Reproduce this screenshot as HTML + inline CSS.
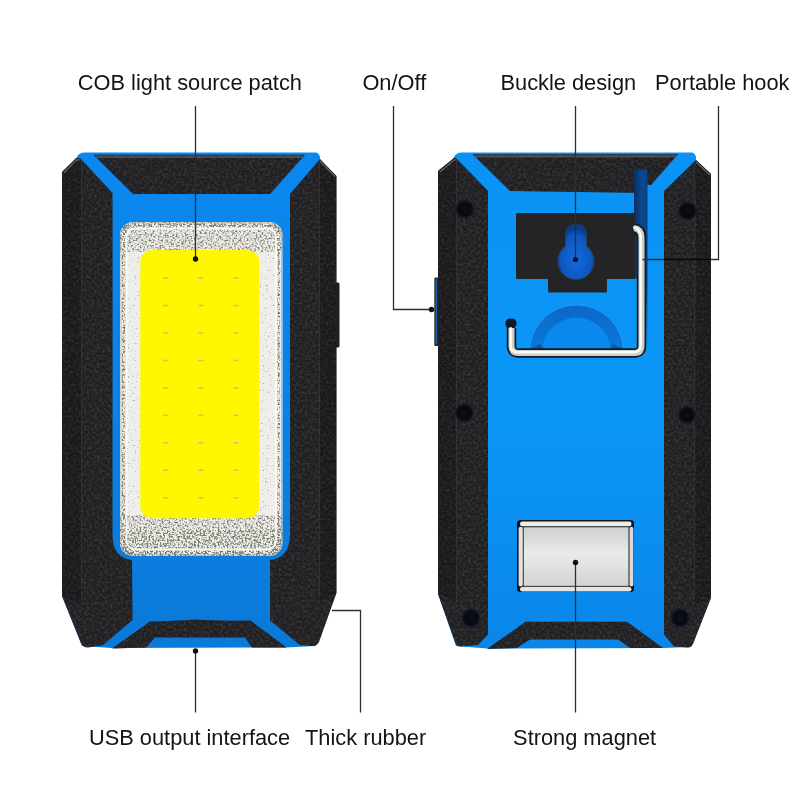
<!DOCTYPE html>
<html><head><meta charset="utf-8">
<style>
html,body{margin:0;padding:0;background:#fff;width:800px;height:800px;overflow:hidden}
svg{display:block;will-change:transform}
text{font-family:"Liberation Sans",sans-serif;font-size:21.8px;fill:#141414}
</style></head><body>
<svg width="800" height="800" viewBox="0 0 800 800">
<defs>
  <filter id="rub" x="0" y="0" width="100%" height="100%" color-interpolation-filters="sRGB">
    <feTurbulence type="fractalNoise" baseFrequency="0.38" numOctaves="3" seed="7" result="n"/>
    <feColorMatrix in="n" type="matrix" values="0 0 0 0 0.27  0 0 0 0 0.27  0 0 0 0 0.28  1.6 0 0 0 -0.62" result="spk"/>
    <feComposite in="spk" in2="SourceGraphic" operator="in" result="s2"/>
    <feMerge><feMergeNode in="SourceGraphic"/><feMergeNode in="s2"/></feMerge>
  </filter>
  <filter id="spkH" x="0" y="0" width="100%" height="100%" color-interpolation-filters="sRGB">
    <feTurbulence type="fractalNoise" baseFrequency="0.55" numOctaves="2" seed="3" result="n"/>
    <feColorMatrix in="n" type="matrix" values="0 0 0 0 0.45  0 0 0 0 0.45  0 0 0 0 0.4  3.2 0 0 0 -1.45" result="spk"/>
    <feComposite in="spk" in2="SourceAlpha" operator="in"/>
  </filter>
  <filter id="spkL" x="0" y="0" width="100%" height="100%" color-interpolation-filters="sRGB">
    <feTurbulence type="fractalNoise" baseFrequency="0.6" numOctaves="2" seed="11" result="n"/>
    <feColorMatrix in="n" type="matrix" values="0 0 0 0 0.6  0 0 0 0 0.6  0 0 0 0 0.55  5 0 0 0 -3.3" result="spk"/>
    <feComposite in="spk" in2="SourceAlpha" operator="in"/>
  </filter>
  <clipPath id="silvclip"><rect x="120" y="222" width="162.5" height="334" rx="13"/></clipPath>
  <linearGradient id="mag" x1="0" y1="0" x2="0" y2="1">
    <stop offset="0" stop-color="#d0d0d2"/>
    <stop offset="0.45" stop-color="#eaeaec"/>
    <stop offset="1" stop-color="#d2d2d4"/>
  </linearGradient>
  <linearGradient id="bl" x1="0" y1="0" x2="0" y2="1">
    <stop offset="0" stop-color="#0b88ee"/>
    <stop offset="0.6" stop-color="#0a80e4"/>
    <stop offset="1" stop-color="#0a7ad9"/>
  </linearGradient>
  <linearGradient id="br" x1="0" y1="0" x2="0" y2="1">
    <stop offset="0" stop-color="#0a92f4"/>
    <stop offset="0.5" stop-color="#0a97f8"/>
    <stop offset="1" stop-color="#0a86ea"/>
  </linearGradient>
  <radialGradient id="scr" cx="0.5" cy="0.5" r="0.5">
    <stop offset="0" stop-color="#0e0f12"/>
    <stop offset="0.6" stop-color="#08090c"/>
    <stop offset="0.78" stop-color="#0a1628"/>
    <stop offset="1" stop-color="#1f2024" stop-opacity="0"/>
  </radialGradient>
</defs>
<rect width="800" height="800" fill="#fff"/>

<!-- ===== LEFT DEVICE ===== -->
<g id="L">
  <!-- blue body -->
  <path d="M62,172 L76,159 Q78,152.5 84,152.5 L316,152.5 Q319,153 320,157 L320,159 L336,176 L336,593 L315,646 L286,647.5 L112,648 L82,646 L62,596 Z" fill="url(#bl)"/>
  <!-- side button -->
  <rect x="334" y="282.5" width="5.5" height="65" rx="1.5" fill="#1e1e20"/>
  <g fill="#1f1f22" filter="url(#rub)">
  <!-- left bar -->
  <path d="M62,172 L76,158 L80,158 L112.5,193 L112.5,536 Q113,558 132,560 L132.5,620 L103,645 L88,647.5 Q83,647.5 81,643 L62,596 Z"/>
  <!-- right bar -->
  <path d="M320,159 L336.5,176 L336.5,593 L319,642 Q317,646 313,646 L300,645 L270,620.5 L270,560 Q289,558 290,536 L290,194 Z"/>
  <!-- top trapezoid -->
  <path d="M93.5,154.8 L305,154.8 L270,194 L133,194 Z"/>
  <!-- bottom trapezoid -->
  <path d="M150,621.5 Q175,621 195,619.5 Q215,621 250.5,620.5 L286.5,647.5 L252,647.5 L245,637.5 L155,637.5 L146,647.5 L112,648.5 Z"/>
  </g>
  <!-- bevel lines -->
  <path d="M62,172 L76,159 L81,159 L81,604 L62,596 Z" fill="#000" opacity="0.18"/>
  <path d="M81.5,162 L81.5,600" stroke="#3a3a3c" stroke-width="1" opacity="0.6"/>
  <path d="M320,160 L336.5,176 L336.5,593 L320,602 Z" fill="#000" opacity="0.18"/>
  <path d="M319.5,164 L319.5,598" stroke="#3a3a3c" stroke-width="1" opacity="0.6"/>
  <!-- silver frame -->
  <rect x="120" y="222" width="162.5" height="334" rx="13" fill="#efeeea"/>
  <g clip-path="url(#silvclip)">
    <rect x="120" y="222" width="163" height="334" fill="#000" filter="url(#spkL)"/>
    <rect x="120" y="222" width="163" height="30" fill="#000" filter="url(#spkH)"/>
    <rect x="120" y="515" width="163" height="41" fill="#000" filter="url(#spkH)"/>
    <rect x="120" y="530" width="163" height="26" fill="#000" filter="url(#spkH)"/>
    <rect x="122.5" y="224.5" width="157.5" height="329" rx="11" fill="none" stroke="#000" stroke-width="6" filter="url(#spkH)"/>
    <rect x="122.5" y="224.5" width="157.5" height="329" rx="11" fill="none" stroke="#000" stroke-width="4" filter="url(#spkH)"/>
    <rect x="121" y="223" width="160.5" height="332" rx="12" fill="none" stroke="#8a8a80" stroke-width="1.2" opacity="0.4"/>
    <rect x="126.5" y="228.5" width="149.5" height="321" rx="9" fill="none" stroke="#fbfbf8" stroke-width="1.8" opacity="0.95"/>
  </g>
  <!-- yellow COB -->
  <rect x="140.3" y="250" width="119" height="268.3" rx="12" fill="#fff700"/>
  <g fill="#cbbf7c">
    <rect x="163" y="277.3" width="5" height="1.5"/><rect x="198.3" y="277.3" width="5" height="1.5"/><rect x="233.5" y="277.3" width="5" height="1.5"/>
    <rect x="163" y="304.8" width="5" height="1.5"/><rect x="198.3" y="304.8" width="5" height="1.5"/><rect x="233.5" y="304.8" width="5" height="1.5"/>
    <rect x="163" y="332.2" width="5" height="1.5"/><rect x="198.3" y="332.2" width="5" height="1.5"/><rect x="233.5" y="332.2" width="5" height="1.5"/>
    <rect x="163" y="359.7" width="5" height="1.5"/><rect x="198.3" y="359.7" width="5" height="1.5"/><rect x="233.5" y="359.7" width="5" height="1.5"/>
    <rect x="163" y="387.1" width="5" height="1.5"/><rect x="198.3" y="387.1" width="5" height="1.5"/><rect x="233.5" y="387.1" width="5" height="1.5"/>
    <rect x="163" y="414.6" width="5" height="1.5"/><rect x="198.3" y="414.6" width="5" height="1.5"/><rect x="233.5" y="414.6" width="5" height="1.5"/>
    <rect x="163" y="442" width="5" height="1.5"/><rect x="198.3" y="442" width="5" height="1.5"/><rect x="233.5" y="442" width="5" height="1.5"/>
    <rect x="163" y="469.5" width="5" height="1.5"/><rect x="198.3" y="469.5" width="5" height="1.5"/><rect x="233.5" y="469.5" width="5" height="1.5"/>
    <rect x="163" y="497" width="5" height="1.5"/><rect x="198.3" y="497" width="5" height="1.5"/><rect x="233.5" y="497" width="5" height="1.5"/>
  </g>
</g>

<!-- ===== RIGHT DEVICE ===== -->
<g id="R">
  <path d="M438,171 L453,159 Q455,153 461,152.5 L692,152.5 Q695,153 696,157 L696,160 L711,174 L711,597 L691,647 L663,648 L487,648.5 L456,646 L438,594 Z" fill="url(#br)"/>
  <!-- on/off button -->
  <rect x="434.3" y="277.5" width="5" height="68.5" rx="1.2" fill="#2a2a24"/>
  <rect x="435.6" y="279" width="1.4" height="65" fill="#1a6ac0" opacity="0.85"/>
  <g fill="#1f1f22" filter="url(#rub)">
  <!-- left bar -->
  <path d="M438,171 L454,158 L456,158 L488,191 L488,634.5 L478,645 L460,646.5 Q457,646.5 455.5,643 L438,594 Z"/>
  <!-- right bar -->
  <path d="M696,160 L711,174 L711,598 L693,644 Q691,647.5 688,647.5 L674,646.5 L664,634.5 L664,191 Z"/>
  <!-- top trapezoid -->
  <path d="M472.5,154.3 L678,154.3 L651,185 L647,185 L647,193 L510,191 Z"/>
  <!-- bottom trapezoid -->
  <path d="M525.5,621.75 L627,621.75 L663,648 L630,648 L618,639.5 L530,639.5 L516.5,648 L487,649 Z"/>
  </g>
  <path d="M438,171 L454,158 L456,158 L456,600 L438,594 Z" fill="#000" opacity="0.18"/>
  <path d="M456.5,162 L456.5,600" stroke="#3a3a3c" stroke-width="1" opacity="0.6"/>
  <path d="M696,160 L711,174 L711,598 L695,604 Z" fill="#000" opacity="0.18"/>
  <path d="M694.5,164 L694.5,600" stroke="#3a3a3c" stroke-width="1" opacity="0.6"/>
  <g fill="none" stroke="#8a8a8a" stroke-width="1.3" opacity="0.6">
    <path d="M439.8,172 L454.5,159.8 L456.5,159.8"/>
    <path d="M696,162 L709.8,175"/>
    <path d="M475,156.3 L676,156.3" stroke-width="2.6" stroke="#66666a"/>
    <path d="M63.8,173 L76.5,159.8 L80.5,159.8"/>
    <path d="M320,161 L335,176.5"/>
    <path d="M96,156.8 L303,156.8" stroke-width="2.6" stroke="#66666a"/>
  </g>
  <!-- slot -->
  <linearGradient id="slotg" x1="0" y1="0" x2="1" y2="0"><stop offset="0" stop-color="#0a2f60"/><stop offset="0.6" stop-color="#0b4a92"/><stop offset="1" stop-color="#0a3f7e"/></linearGradient>
  <linearGradient id="slotv" x1="0" y1="0" x2="0" y2="1"><stop offset="0" stop-color="#0a3a78"/><stop offset="1" stop-color="#0a3a78" stop-opacity="0"/></linearGradient>
  <rect x="634" y="169.5" width="13.5" height="109" fill="url(#slotg)"/>
  <rect x="643" y="278" width="4.5" height="70" fill="url(#slotv)"/>
  <!-- buckle black box -->
  <path d="M516,214.5 Q516,213 517.5,213 L635,213 L635,279 L607,279 L607,291 Q607,292.5 605.5,292.5 L549.5,292.5 Q548,292.5 548,291 L548,279 L517.5,279 Q516,279 516,277.5 Z" fill="#242427"/>
  <!-- keyhole -->
  <radialGradient id="kh" cx="0.5" cy="0.62" r="0.55"><stop offset="0" stop-color="#1268dc"/><stop offset="0.75" stop-color="#0d58c0"/><stop offset="1" stop-color="#0a3a88"/></radialGradient>
  <path d="M565.5,234 Q565.5,224 576,224 Q586.5,224 586.5,234 L586.5,246.3 A18.3,18.3 0 1 1 565.5,246.3 Z" fill="url(#kh)" stroke="#3a3a38" stroke-width="1" stroke-opacity="0.6"/>
  <!-- arch -->
  <linearGradient id="archg" x1="0" y1="0" x2="0" y2="1"><stop offset="0" stop-color="#0a68c8"/><stop offset="1" stop-color="#0a7ad8"/></linearGradient>
  <path d="M529.5,352 A47,47 0 0 1 623.5,352 Z" fill="url(#archg)"/>
  <path d="M529.5,352 A47,47 0 0 1 623.5,352" fill="none" stroke="#38b0ff" stroke-width="1" opacity="0.5"/>
  <path d="M542,352 A34.5,34.5 0 0 1 611,352 Z" fill="#0a88ec"/>
  <path d="M516,350 Q530,350 540,344 L545,350 Z M637,350 Q623,350 613,344 L608,350 Z" fill="#0a4c98" opacity="0.7"/>
  <!-- hook wire -->
  <rect x="505.5" y="318.5" width="11" height="10" rx="4.5" fill="#101a28"/>
  <path d="M634,228 Q641.5,229 641.5,238 L641.5,346 Q641.5,353 634.5,353 L518.5,353 Q511.5,353 511.5,346 L511.5,328" fill="none" stroke="#121c2a" stroke-width="9.5"/>
  <path d="M634,228 Q641.5,229 641.5,238 L641.5,346 Q641.5,353 634.5,353 L518.5,353 Q511.5,353 511.5,346 L511.5,328" fill="none" stroke="#cfcfcb" stroke-width="6"/>
  <path d="M634,228 Q641.5,229 641.5,238 L641.5,346 Q641.5,353 634.5,353 L518.5,353 Q511.5,353 511.5,346 L511.5,328" fill="none" stroke="#fbfbf6" stroke-width="2.4" transform="translate(-0.8,-0.8)"/>
  <!-- magnet -->
  <rect x="517" y="520" width="117" height="72" rx="3.5" fill="#111"/>
  <rect x="520" y="521.6" width="111.5" height="4.6" rx="2.2" fill="#ededee"/>
  <rect x="520" y="587" width="111.5" height="4.4" rx="2.2" fill="#e4e4e6"/>
  <rect x="518.6" y="526.8" width="4.2" height="59.6" rx="2" fill="#e2e2e4"/>
  <rect x="629.4" y="526.8" width="4" height="59.6" rx="2" fill="#dadadc"/>
  <rect x="523.6" y="527" width="105.2" height="59.2" fill="url(#mag)" stroke="#555" stroke-width="0.8"/>
  <!-- screws -->
  <g fill="url(#scr)">
    <circle cx="464.8" cy="209.2" r="10.5"/>
    <circle cx="687.5" cy="211" r="10.5"/>
    <circle cx="464.4" cy="413" r="10.5"/>
    <circle cx="687" cy="415" r="10"/>
    <circle cx="471" cy="618" r="10.5"/>
    <circle cx="680" cy="618" r="10.5"/>
  </g>
</g>

<!-- ===== LEADER LINES ===== -->
<g stroke="#2e2e2e" stroke-width="1.3" fill="none">
  <path d="M195.5,106 L195.5,259"/>
  <path d="M393.5,106 L393.5,309.5 L431.5,309.5"/>
  <path d="M575.5,106 L575.5,259.5"/>
  <path d="M718.5,106 L718.5,259.5 L642.5,259.5"/>
  <path d="M195.5,651 L195.5,712.5"/>
  <path d="M332,610.5 L360.5,610.5 L360.5,712.5"/>
  <path d="M575.5,562.5 L575.5,712.5"/>
</g>
<path d="M664,259.5 L711,259.5" stroke="#050505" stroke-width="1.3"/>
<g fill="#111">
  <circle cx="195.5" cy="259" r="2.7"/>
  <circle cx="431.5" cy="309.5" r="2.7"/>
  <circle cx="575.5" cy="259.5" r="2.6"/>
  <circle cx="195.5" cy="651" r="2.7"/>
  <circle cx="575.5" cy="562.5" r="2.7"/>
</g>

<!-- ===== LABELS ===== -->
<text x="77.8" y="90">COB light source patch</text>
<text x="362.4" y="90">On/Off</text>
<text x="500.5" y="90">Buckle design</text>
<text x="655" y="90">Portable hook</text>
<text x="89" y="744.5">USB output interface</text>
<text x="305" y="744.5">Thick rubber</text>
<text x="513.1" y="744.5">Strong magnet</text>
</svg>
</body></html>
